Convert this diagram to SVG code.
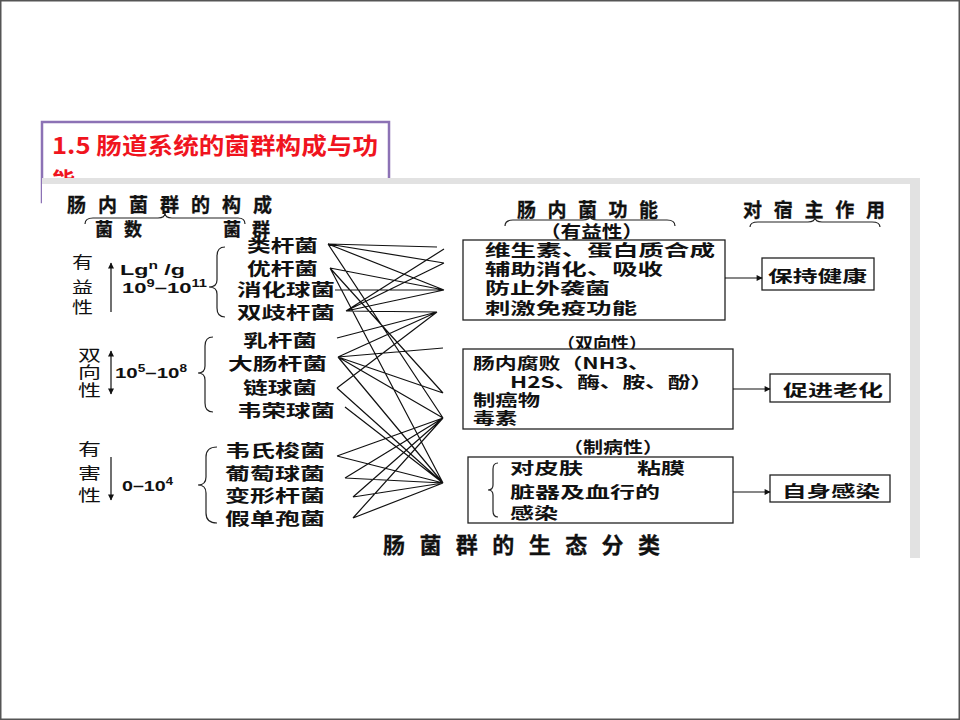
<svg xmlns="http://www.w3.org/2000/svg" width="960" height="720" viewBox="0 0 960 720">
<defs>
<marker id="ah" viewBox="0 0 10 10" refX="9" refY="5" markerWidth="8" markerHeight="6" markerUnits="userSpaceOnUse" orient="auto-start-reverse">
<path d="M0,0 L10,5 L0,10 z" fill="#111"/>
</marker>
<style>
.cjk{font-family:"Noto Sans CJK SC","Noto Sans",sans-serif;fill:#111}
.b{font-weight:700}
.n{font-size:17px;font-weight:700}
.bx{font-size:16px;font-weight:700}
.side{font-size:16px;font-weight:400}
.hd{font-size:19px;font-weight:700;stroke:#111;stroke-width:0.3}
.num{font-family:"Liberation Sans",Arial,sans-serif;font-weight:700;font-size:15px;fill:#111}
.ln{stroke:#111;stroke-width:1.2;fill:none}
.box{fill:#fff;stroke:#222;stroke-width:1.3}
.br{fill:none;stroke:#222;stroke-width:1.2}
</style>
</defs>
<rect x="0.75" y="0.75" width="958.5" height="718.5" fill="#fff" stroke="#555" stroke-width="1.5"/>

<g id="slide-title">
<rect x="42" y="122" width="347" height="80" fill="#fff" stroke="#8C72B5" stroke-width="2.5"/>
<text class="cjk b" x="52" y="154" font-size="23" style="fill:#F0141E" textLength="326" lengthAdjust="spacingAndGlyphs">1.5 肠道系统的菌群构成与功</text>
<text class="cjk b" x="52" y="189" font-size="23" style="fill:#F0141E">能</text>
</g>

<g id="picture-frame">
<rect x="42" y="178" width="878" height="380" fill="#e2e2e2"/>
<rect x="42" y="184" width="868" height="374" fill="#fff"/>
</g>

<g id="headers">
<text class="cjk hd" x="67" y="212" textLength="205" lengthAdjust="spacing">肠内菌群的构成</text>
<path class="br" d="M85,224 Q85,218 93,218 L158,218 Q165,218 165,213 Q165,218 172,218 L238,218 Q245,218 245,224"/>
<text class="cjk hd" x="95" y="236" style="font-size:18px" textLength="47" lengthAdjust="spacing">菌数</text>
<text class="cjk hd" x="223" y="236" style="font-size:18px" textLength="47" lengthAdjust="spacing">菌群</text>
<text class="cjk hd" x="517" y="217" textLength="141" lengthAdjust="spacing">肠内菌功能</text>
<path class="br" d="M505,226 Q505,220 513,220 L583,220 Q590,220 590,215 Q590,220 597,220 L667,220 Q675,220 675,226"/>
<text class="cjk hd" x="743" y="217" textLength="142" lengthAdjust="spacing">对宿主作用</text>
<path class="br" d="M750,227 Q750,222 758,222 L808,222 Q815,222 815,217 Q815,222 822,222 L872,222 Q880,222 880,227"/>
</g>

<g id="group-beneficial">
<text class="cjk side" x="72" y="268" textLength="21" lengthAdjust="spacingAndGlyphs">有</text>
<text class="cjk side" x="72" y="293" textLength="21" lengthAdjust="spacingAndGlyphs">益</text>
<text class="cjk side" x="72" y="313" textLength="21" lengthAdjust="spacingAndGlyphs">性</text>
<line class="ln" x1="111" y1="312" x2="111" y2="263" marker-end="url(#ah)"/>
<text class="num" x="120" y="275" textLength="65" lengthAdjust="spacingAndGlyphs">Lg<tspan font-size="10" dy="-6">n</tspan><tspan dy="6"> /g</tspan></text>
<text class="num" x="122" y="293" textLength="85" lengthAdjust="spacingAndGlyphs">10<tspan font-size="10" dy="-6">9</tspan><tspan dy="6">–10</tspan><tspan font-size="10" dy="-6">11</tspan></text>
<path class="br" d="M225,247 Q217,247 217,256 L217,280 Q217,287 209,287 Q217,287 217,294 L217,308 Q217,317 225,317"/>
<text class="cjk n" x="247" y="251.5" textLength="71" lengthAdjust="spacingAndGlyphs">类杆菌</text>
<text class="cjk n" x="247" y="274.5" textLength="71" lengthAdjust="spacingAndGlyphs">优杆菌</text>
<text class="cjk n" x="237" y="295.5" textLength="98" lengthAdjust="spacingAndGlyphs">消化球菌</text>
<text class="cjk n" x="237" y="318.5" textLength="98" lengthAdjust="spacingAndGlyphs">双歧杆菌</text>
</g>

<g id="group-dual">
<text class="cjk side" x="78" y="361" textLength="23" lengthAdjust="spacingAndGlyphs">双</text>
<text class="cjk side" x="78" y="378" textLength="23" lengthAdjust="spacingAndGlyphs">向</text>
<text class="cjk side" x="78" y="396" textLength="23" lengthAdjust="spacingAndGlyphs">性</text>
<line class="ln" x1="111" y1="351" x2="111" y2="394" marker-start="url(#ah)" marker-end="url(#ah)"/>
<text class="num" x="115" y="378" textLength="72" lengthAdjust="spacingAndGlyphs">10<tspan font-size="10" dy="-6">5</tspan><tspan dy="6">–10</tspan><tspan font-size="10" dy="-6">8</tspan></text>
<path class="br" d="M213,337 Q205,337 205,346 L205,366 Q205,373 198,373 Q205,373 205,380 L205,403 Q205,412 213,412"/>
<text class="cjk n" x="243" y="346.5" textLength="74" lengthAdjust="spacingAndGlyphs">乳杆菌</text>
<text class="cjk n" x="228" y="369.5" textLength="99" lengthAdjust="spacingAndGlyphs">大肠杆菌</text>
<text class="cjk n" x="243" y="393.5" textLength="74" lengthAdjust="spacingAndGlyphs">链球菌</text>
<text class="cjk n" x="237" y="416.5" textLength="98" lengthAdjust="spacingAndGlyphs">韦荣球菌</text>
</g>

<g id="group-harmful">
<text class="cjk side" x="78" y="455" textLength="23" lengthAdjust="spacingAndGlyphs">有</text>
<text class="cjk side" x="78" y="479" textLength="23" lengthAdjust="spacingAndGlyphs">害</text>
<text class="cjk side" x="78" y="501" textLength="23" lengthAdjust="spacingAndGlyphs">性</text>
<line class="ln" x1="111" y1="457" x2="111" y2="500" marker-end="url(#ah)"/>
<text class="num" x="122" y="491" textLength="51" lengthAdjust="spacingAndGlyphs">0–10<tspan font-size="10" dy="-6">4</tspan></text>
<path class="br" d="M217,447 Q206,447 206,457 L206,477 Q206,485 198,485 Q206,485 206,493 L206,513 Q206,523 217,523"/>
<text class="cjk n" x="225" y="456.5" textLength="100" lengthAdjust="spacingAndGlyphs">韦氏梭菌</text>
<text class="cjk n" x="225" y="479.5" textLength="100" lengthAdjust="spacingAndGlyphs">葡萄球菌</text>
<text class="cjk n" x="225" y="501.5" textLength="100" lengthAdjust="spacingAndGlyphs">变形杆菌</text>
<text class="cjk n" x="225" y="524.5" textLength="100" lengthAdjust="spacingAndGlyphs">假单孢菌</text>
</g>

<g id="func-beneficial">
<text class="cjk bx" x="540" y="238" style="font-size:17px" textLength="103" lengthAdjust="spacingAndGlyphs">（有益性）</text>
<rect class="box" x="463" y="240" width="262" height="80"/>
<text class="cjk bx" x="485" y="256" textLength="230" lengthAdjust="spacingAndGlyphs">维生素、蛋白质合成</text>
<text class="cjk bx" x="485" y="275" textLength="178" lengthAdjust="spacingAndGlyphs">辅助消化、吸收</text>
<text class="cjk bx" x="485" y="294" textLength="125" lengthAdjust="spacingAndGlyphs">防止外袭菌</text>
<text class="cjk bx" x="485" y="314" textLength="152" lengthAdjust="spacingAndGlyphs">刺激免疫功能</text>
</g>

<g id="func-dual">
<text class="cjk bx" x="557" y="349" textLength="90" lengthAdjust="spacingAndGlyphs">（双向性）</text>
<rect class="box" x="463" y="349" width="270" height="80"/>
<text class="cjk bx" x="473" y="369" textLength="177" lengthAdjust="spacingAndGlyphs">肠内腐败（NH3、</text>
<text class="cjk bx" x="510" y="388" textLength="203" lengthAdjust="spacingAndGlyphs">H2S、酶、胺、酚）</text>
<text class="cjk bx" x="473" y="406" textLength="67" lengthAdjust="spacingAndGlyphs">制癌物</text>
<text class="cjk bx" x="473" y="424" textLength="44" lengthAdjust="spacingAndGlyphs">毒素</text>
</g>

<g id="func-pathogenic">
<text class="cjk bx" x="563" y="453" textLength="100" lengthAdjust="spacingAndGlyphs">（制病性）</text>
<rect class="box" x="468" y="457" width="265" height="66"/>
<path class="br" d="M498,463 Q493,463 493,469 L493,485 Q493,490 488,490 Q493,490 493,495 L493,511 Q493,517 498,517"/>
<text class="cjk bx" x="510" y="474" textLength="73" lengthAdjust="spacingAndGlyphs">对皮肤</text>
<text class="cjk bx" x="637" y="474" textLength="48" lengthAdjust="spacingAndGlyphs">粘膜</text>
<text class="cjk bx" x="510" y="498" textLength="150" lengthAdjust="spacingAndGlyphs">脏器及血行的</text>
<text class="cjk bx" x="510" y="519" textLength="48" lengthAdjust="spacingAndGlyphs">感染</text>
</g>

<g id="effect-health">
<rect class="box" x="762" y="258" width="112" height="32"/>
<text class="cjk bx" x="768" y="282" textLength="99" lengthAdjust="spacingAndGlyphs">保持健康</text>
</g>
<g id="effect-aging">
<rect class="box" x="770" y="374" width="120" height="28"/>
<text class="cjk bx" x="783" y="396" textLength="100" lengthAdjust="spacingAndGlyphs">促进老化</text>
</g>
<g id="effect-infection">
<rect class="box" x="770" y="475" width="120" height="27"/>
<text class="cjk bx" x="782" y="497" textLength="98" lengthAdjust="spacingAndGlyphs">自身感染</text>
</g>

<g id="caption">
<text class="cjk hd" x="383" y="553" style="font-size:22px" textLength="277" lengthAdjust="spacing">肠菌群的生态分类</text>
</g>

<g id="connectors">
<line class="ln" x1="725" y1="278" x2="762" y2="278" marker-end="url(#ah)"/>
<line class="ln" x1="733" y1="389" x2="770" y2="389" marker-end="url(#ah)"/>
<line class="ln" x1="733" y1="492" x2="770" y2="492" marker-end="url(#ah)"/>
<path class="ln" d="M328,244 L437,247 M328,244 L444,263 M328,244 L444,290 M328,244 L443,418
M330,268 L444,290 M330,268 L443,393 M330,268 L443,483
M335,290 L444,290
M346,311 L437,312 M346,311 L444,290 M346,311 L444,249 M346,311 L444,263
M337,338 L437,312
M338,357 L437,312 M338,357 L443,348 M338,357 L443,393 M338,357 L443,483 M338,357 L443,418
M337,388 L437,312 M337,388 L443,483
M345,407 L443,483
M337,456 L443,418 M337,456 L443,483
M345,478 L443,418 M345,478 L443,483
M353,497 L443,418 M353,497 L443,483
M353,518 L443,418 M353,518 L443,483"/>
</g>
</svg>
